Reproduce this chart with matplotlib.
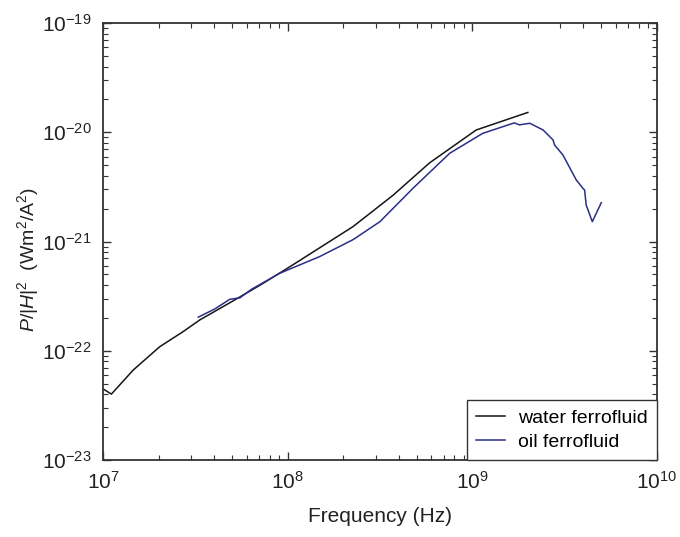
import matplotlib
matplotlib.use("Agg")
import matplotlib.pyplot as plt
from matplotlib.ticker import LogLocator, NullFormatter, FixedLocator, LogFormatterSciNotation

plt.rcParams['font.family'] = ['Liberation Sans', 'DejaVu Sans']
plt.rcParams['mathtext.fontset'] = 'custom'
plt.rcParams['mathtext.rm'] = 'Liberation Sans'
plt.rcParams['mathtext.it'] = 'Liberation Sans:italic'
plt.rcParams['mathtext.bf'] = 'Liberation Sans:bold'

# Water ferrofluid
water_freq = [1.00e7, 1.11e7, 1.46e7, 2.03e7, 2.72e7, 3.35e7, 4.86e7, 7.08e7,
              1.03e8, 2.26e8, 3.72e8, 5.87e8, 1.05e9, 2.00e9]
water_p = [4.48e-23, 4.01e-23, 6.68e-23, 1.09e-22, 1.50e-22, 1.92e-22, 2.75e-22, 3.98e-22,
           5.89e-22, 1.37e-21, 2.65e-21, 5.25e-21, 1.05e-20, 1.52e-20]

# Oil ferrofluid
oil_freq = [3.28e7, 4.04e7, 4.86e7, 5.51e7, 6.38e7, 9.08e7, 1.49e8, 2.26e8, 3.16e8,
            4.78e8, 7.55e8, 1.14e9, 1.69e9, 1.80e9, 2.05e9, 2.42e9, 2.74e9, 2.79e9,
            3.10e9, 3.66e9, 3.97e9, 4.06e9, 4.14e9, 4.47e9, 5.00e9]
oil_p = [2.03e-22, 2.42e-22, 2.96e-22, 3.05e-22, 3.66e-22, 5.13e-22, 7.28e-22, 1.04e-21, 1.52e-21,
         3.08e-21, 6.43e-21, 9.79e-21, 1.22e-20, 1.17e-20, 1.21e-20, 1.05e-20, 8.51e-21, 7.66e-21,
         6.19e-21, 3.66e-21, 3.08e-21, 2.96e-21, 2.16e-21, 1.52e-21, 2.27e-21]

labels = ["water ferrofluid", "oil ferrofluid"]
x_ticks = [1e7, 1e8, 1e9, 1e10]
y_ticks = [1e-23, 1e-22, 1e-21, 1e-20, 1e-19]

fig = plt.figure(figsize=(6.8, 5.37), dpi=100)
ax = fig.add_axes([0.1515, 0.1434, 0.8145, 0.8136])

ax.plot(water_freq, water_p, color='#151515', lw=1.1, label=labels[0])
ax.plot(oil_freq, oil_p, color='#2a2f85', lw=1.1, label=labels[1])

ax.set_xscale('log')
ax.set_yscale('log')
ax.set_xlim(x_ticks[0], x_ticks[-1])
ax.set_ylim(y_ticks[0], y_ticks[-1])

ax.xaxis.set_major_locator(FixedLocator(x_ticks))
ax.yaxis.set_major_locator(FixedLocator(y_ticks))
ax.xaxis.set_major_formatter(LogFormatterSciNotation())
ax.yaxis.set_major_formatter(LogFormatterSciNotation())
ax.xaxis.set_minor_locator(LogLocator(base=10, subs=range(2, 10), numticks=20))
ax.yaxis.set_minor_locator(LogLocator(base=10, subs=range(2, 10), numticks=20))
ax.xaxis.set_minor_formatter(NullFormatter())
ax.yaxis.set_minor_formatter(NullFormatter())

ax.tick_params(which='both', direction='in', top=True, right=True, colors='#333333',
               labelcolor='#222222')
ax.tick_params(which='major', length=6, width=1.0, labelsize=15, pad=8)
ax.tick_params(which='minor', length=3.5, width=0.8)
for s in ax.spines.values():
    s.set_color('#333333')
    s.set_linewidth(1.3)

ax.set_xlabel('Frequency (Hz)', fontsize=15, color='#222222', labelpad=10)
ax.set_ylabel(r'$P$/|$H$|$^2$  (Wm$^2$/A$^2$)', fontsize=14, color='#222222', labelpad=4)
ax.yaxis.set_label_coords(-0.112, 0.46)

leg = ax.legend(loc='lower right', borderaxespad=0, fontsize=14, handlelength=1.5,
                handletextpad=0.7, fancybox=False, framealpha=1, edgecolor='#333333',
                borderpad=0.45, labelspacing=0.35)
leg.get_frame().set_linewidth(1.0)

fig.savefig('out.png', dpi=100)
